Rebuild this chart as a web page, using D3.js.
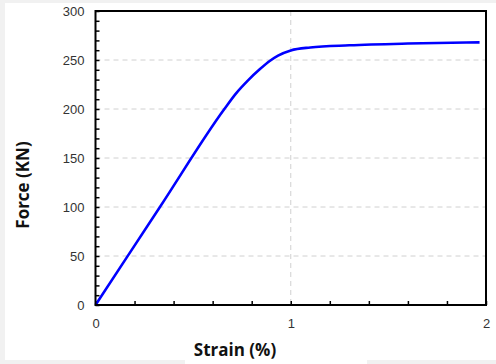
<!DOCTYPE html>
<html><head><meta charset="utf-8">
<script src="https://cdn.jsdelivr.net/npm/d3@7"></script>
<style>html,body{margin:0;padding:0;background:#f1f1f1;}svg{display:block;}</style>
</head><body>
<svg id="c" width="496" height="364"></svg>
<script>
const strain = [0, 0.33, 0.66, 0.72, 0.78, 0.841, 0.896, 0.935, 1.0, 1.1, 1.3, 1.6, 1.967];
const force  = [0, 100, 200, 216, 229, 240.5, 249.5, 254.5, 259.8, 262.8, 265, 266.8, 268];
const xTickLabels = [0, 1, 2];
const yTickLabels = [0, 50, 100, 150, 200, 250, 300];
const xMinor = d3.range(0, 2.0001, 0.2);
const yMinor = d3.range(0, 300.001, 10);
const xGrid = [1];
const yGrid = [50, 100, 150, 200, 250];

const svg = d3.select("#c");
// background card
svg.append("rect").attr("x",0).attr("y",0).attr("width",496).attr("height",364).attr("fill","#f1f1f1");
svg.append("rect").attr("x",5).attr("y",3).attr("width",491).attr("height",357).attr("fill","#ffffff");
svg.append("rect").attr("x",185).attr("y",359).attr("width",182).attr("height",5).attr("fill","#ffffff");

const L=95.5, R=486, T=11, B=305;
const x = d3.scaleLinear().domain([0,2]).range([L,R]);
const y = d3.scaleLinear().domain([0,300]).range([B,T]);

// grid
svg.append("g").selectAll("line").data(yGrid).join("line")
  .attr("x1",L).attr("x2",R).attr("y1",d=>y(d)).attr("y2",d=>y(d))
  .attr("stroke","#d0d0d0").attr("stroke-width",1).attr("stroke-dasharray","5,4");
svg.append("g").selectAll("line").data(xGrid).join("line")
  .attr("x1",d=>x(d)).attr("x2",d=>x(d)).attr("y1",T).attr("y2",B)
  .attr("stroke","#d0d0d0").attr("stroke-width",1).attr("stroke-dasharray","5,4");

// minor ticks (inward)
svg.append("g").call(d3.axisTop(x).tickValues(xMinor).tickSize(4).tickFormat(""))
  .attr("transform",`translate(0,${B})`).call(g=>{g.select(".domain").remove();g.selectAll("line").attr("stroke","#000").attr("stroke-width",1.5);});
svg.append("g").call(d3.axisRight(y).tickValues(yMinor).tickSize(4).tickFormat(""))
  .attr("transform",`translate(${L},0)`).call(g=>{g.select(".domain").remove();g.selectAll("line").attr("stroke","#000").attr("stroke-width",1.5);});

// tick labels
svg.append("g").call(d3.axisBottom(x).tickValues(xTickLabels).tickSize(0).tickPadding(14).tickFormat(d3.format("d")))
  .attr("transform",`translate(0,${B})`).call(g=>{g.select(".domain").remove();g.selectAll("text").attr("font-family","Liberation Sans, Arial, sans-serif").attr("font-size",13).attr("fill","#333");});
svg.append("g").call(d3.axisLeft(y).tickValues(yTickLabels).tickSize(0).tickPadding(11).tickFormat(d3.format("d")))
  .attr("transform",`translate(${L},0)`).call(g=>{g.select(".domain").remove();g.selectAll("text").attr("font-family","Liberation Sans, Arial, sans-serif").attr("font-size",13).attr("fill","#333");});

// curve
const pts = strain.map((s,i)=>[s,force[i]]);
svg.append("path").datum(pts)
  .attr("d", d3.line().x(d=>x(d[0])).y(d=>y(d[1])).curve(d3.curveMonotoneX))
  .attr("fill","none").attr("stroke","#0000ff").attr("stroke-width",2.6).attr("stroke-linejoin","round");

// frame
svg.append("rect").attr("x",L).attr("y",T).attr("width",R-L).attr("height",B-T)
  .attr("fill","none").attr("stroke","#000").attr("stroke-width",2);

// axis titles
svg.append("text").attr("x",(193+277)/2).attr("y",356).attr("text-anchor","middle")
  .attr("font-family","Open Sans, sans-serif").attr("font-weight","bold").attr("font-size",17).attr("fill","#111").text("Strain (%)");
svg.append("text").attr("transform","translate(29,185) rotate(-90)").attr("text-anchor","middle")
  .attr("font-family","Open Sans, sans-serif").attr("font-weight","bold").attr("font-size",17).attr("fill","#111").text("Force (KN)");
</script>
</body></html>
